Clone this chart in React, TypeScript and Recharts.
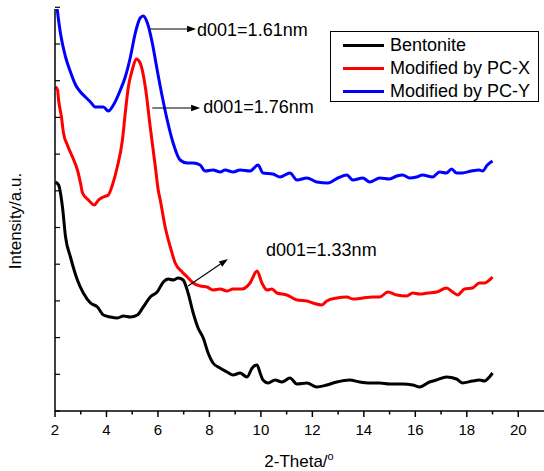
import React from "react";
import {
  LineChart,
  Line,
  XAxis,
  YAxis,
  Legend,
  ReferenceLine,
  ReferenceDot,
} from "recharts";

// 2-Theta (degrees) vs intensity (a.u.)
const bentonite = [
  { x: 2.02, y: 229 }, { x: 2.14, y: 226 }, { x: 2.29, y: 204 }, { x: 2.41, y: 174 },
  { x: 2.6, y: 154 }, { x: 2.87, y: 131 }, { x: 3.1, y: 118 }, { x: 3.38, y: 108 },
  { x: 3.65, y: 104 }, { x: 3.88, y: 96 }, { x: 4.15, y: 94 }, { x: 4.42, y: 93 },
  { x: 4.66, y: 95 }, { x: 4.93, y: 94 }, { x: 5.2, y: 96 }, { x: 5.43, y: 104 },
  { x: 5.7, y: 114 }, { x: 5.97, y: 119 }, { x: 6.21, y: 129 }, { x: 6.4, y: 132 },
  { x: 6.59, y: 131 }, { x: 6.79, y: 133 }, { x: 6.98, y: 131 }, { x: 7.17, y: 118 },
  { x: 7.37, y: 98 }, { x: 7.56, y: 83 }, { x: 7.76, y: 73 }, { x: 7.95, y: 58 },
  { x: 8.14, y: 48 }, { x: 8.41, y: 43 }, { x: 8.69, y: 39 }, { x: 8.92, y: 36 },
  { x: 9.19, y: 38 }, { x: 9.46, y: 34 }, { x: 9.66, y: 43 }, { x: 9.85, y: 46 },
  { x: 9.97, y: 38 }, { x: 10.08, y: 31 }, { x: 10.28, y: 28 }, { x: 10.55, y: 31 },
  { x: 10.82, y: 29 }, { x: 11.13, y: 33 }, { x: 11.4, y: 27 }, { x: 11.79, y: 28 },
  { x: 12.17, y: 24 }, { x: 12.56, y: 26 }, { x: 12.95, y: 29 }, { x: 13.45, y: 31 },
  { x: 13.84, y: 29 }, { x: 14.23, y: 28 }, { x: 14.62, y: 28 }, { x: 15.0, y: 27 },
  { x: 15.51, y: 27 }, { x: 15.9, y: 26 }, { x: 16.17, y: 24 }, { x: 16.55, y: 29 },
  { x: 16.83, y: 31 }, { x: 17.21, y: 34 }, { x: 17.6, y: 32 }, { x: 17.83, y: 28 },
  { x: 18.22, y: 30 }, { x: 18.49, y: 31 }, { x: 18.69, y: 30 }, { x: 18.88, y: 34 },
  { x: 19.0, y: 38 },
];

const pcX = [
  { x: 2.02, y: 324 }, { x: 2.1, y: 321 }, { x: 2.14, y: 311 }, { x: 2.25, y: 294 },
  { x: 2.33, y: 278 }, { x: 2.48, y: 266 }, { x: 2.68, y: 254 }, { x: 2.87, y: 241 },
  { x: 2.99, y: 228 }, { x: 3.07, y: 218 }, { x: 3.3, y: 211 }, { x: 3.53, y: 206 },
  { x: 3.69, y: 211 }, { x: 3.88, y: 214 }, { x: 4.07, y: 216 }, { x: 4.23, y: 226 },
  { x: 4.42, y: 244 }, { x: 4.62, y: 271 }, { x: 4.73, y: 298 }, { x: 4.85, y: 324 },
  { x: 5.0, y: 341 }, { x: 5.16, y: 352 }, { x: 5.31, y: 348 }, { x: 5.51, y: 324 },
  { x: 5.7, y: 284 }, { x: 5.9, y: 244 }, { x: 6.01, y: 221 }, { x: 6.09, y: 211 },
  { x: 6.28, y: 184 }, { x: 6.48, y: 164 }, { x: 6.67, y: 148 }, { x: 6.94, y: 139 },
  { x: 7.14, y: 134 }, { x: 7.37, y: 128 }, { x: 7.64, y: 125 }, { x: 7.91, y: 124 },
  { x: 8.14, y: 121 }, { x: 8.41, y: 122 }, { x: 8.69, y: 120 }, { x: 8.92, y: 122 },
  { x: 9.27, y: 122 }, { x: 9.58, y: 128 }, { x: 9.85, y: 140 }, { x: 10.04, y: 128 },
  { x: 10.24, y: 121 }, { x: 10.43, y: 122 }, { x: 10.62, y: 118 }, { x: 11.01, y: 116 },
  { x: 11.4, y: 111 }, { x: 11.79, y: 110 }, { x: 12.02, y: 108 }, { x: 12.37, y: 106 },
  { x: 12.56, y: 110 }, { x: 12.95, y: 113 }, { x: 13.34, y: 114 }, { x: 13.57, y: 112 },
  { x: 13.96, y: 113 }, { x: 14.34, y: 114 }, { x: 14.62, y: 114 }, { x: 14.93, y: 119 },
  { x: 15.28, y: 116 }, { x: 15.66, y: 115 }, { x: 15.9, y: 118 }, { x: 16.17, y: 117 },
  { x: 16.48, y: 118 }, { x: 16.83, y: 119 }, { x: 17.21, y: 123 }, { x: 17.45, y: 119 },
  { x: 17.64, y: 116 }, { x: 17.91, y: 122 }, { x: 18.22, y: 123 }, { x: 18.49, y: 128 },
  { x: 18.69, y: 128 }, { x: 18.88, y: 131 }, { x: 19.0, y: 134 },
];

const pcY = [
  { x: 2.02, y: 420 }, { x: 2.09, y: 401 }, { x: 2.21, y: 378 }, { x: 2.41, y: 354 },
  { x: 2.6, y: 339 }, { x: 2.8, y: 326 }, { x: 2.99, y: 319 }, { x: 3.18, y: 314 },
  { x: 3.38, y: 309 }, { x: 3.57, y: 304 }, { x: 3.76, y: 304 }, { x: 3.88, y: 304 },
  { x: 4.07, y: 300 }, { x: 4.27, y: 306 }, { x: 4.54, y: 321 }, { x: 4.73, y: 334 },
  { x: 4.93, y: 354 }, { x: 5.12, y: 378 }, { x: 5.31, y: 393 }, { x: 5.43, y: 395 },
  { x: 5.59, y: 388 }, { x: 5.78, y: 368 }, { x: 5.97, y: 341 }, { x: 6.17, y: 314 },
  { x: 6.36, y: 291 }, { x: 6.59, y: 268 }, { x: 6.86, y: 251 }, { x: 7.14, y: 248 },
  { x: 7.37, y: 248 }, { x: 7.64, y: 246 }, { x: 7.83, y: 240 }, { x: 8.14, y: 241 },
  { x: 8.42, y: 239 }, { x: 8.61, y: 241 }, { x: 8.92, y: 239 }, { x: 9.19, y: 241 },
  { x: 9.58, y: 240 }, { x: 9.89, y: 246 }, { x: 10.08, y: 238 }, { x: 10.47, y: 237 },
  { x: 10.74, y: 234 }, { x: 11.13, y: 238 }, { x: 11.4, y: 231 }, { x: 11.79, y: 233 },
  { x: 12.17, y: 229 }, { x: 12.6, y: 228 }, { x: 12.99, y: 233 }, { x: 13.34, y: 236 },
  { x: 13.57, y: 231 }, { x: 13.96, y: 233 }, { x: 14.23, y: 229 }, { x: 14.62, y: 233 },
  { x: 15.0, y: 232 }, { x: 15.28, y: 235 }, { x: 15.51, y: 236 }, { x: 15.78, y: 233 },
  { x: 16.05, y: 234 }, { x: 16.28, y: 236 }, { x: 16.67, y: 234 }, { x: 16.94, y: 239 },
  { x: 17.21, y: 238 }, { x: 17.41, y: 242 }, { x: 17.6, y: 238 }, { x: 17.83, y: 238 },
  { x: 18.18, y: 240 }, { x: 18.49, y: 241 }, { x: 18.61, y: 240 }, { x: 18.8, y: 246 },
  { x: 19.0, y: 250 },
];

const xTicks = [2, 3, 4, 5, 6, 7, 8, 9, 10, 11, 12, 13, 14, 15, 16, 17, 18, 19, 20];
const yTicks = [0, 36.7, 73.4, 110.1, 146.8, 183.5, 220.2, 256.9, 293.6, 330.3, 367, 403.7];

// annotation arrows: from (x1,y1) to (x2,y2), label at (x,y)
const arrows = [
  { x1: 5.7, y1: 382, x2: 7.48, y2: 382 },
  { x1: 5.78, y1: 303, x2: 7.64, y2: 303 },
  { x1: 7.17, y1: 125, x2: 8.72, y2: 152 },
];
const notes = [
  { x: 7.52, y: 381, text: "d001=1.61nm" },
  { x: 7.76, y: 304, text: "d001=1.76nm" },
  { x: 10.2, y: 161, text: "d001=1.33nm" },
];

const FONT = '"Liberation Sans", Arial, sans-serif';

const BottomTick = (props: any) => {
  const { x, y, payload } = props;
  const major = payload.value % 2 === 0;
  return (
    <g>
      <line x1={x} y1={y} x2={x} y2={y + (major ? 6 : 3.5)} stroke="#000" strokeWidth={1.5} />
      {major && (
        <text x={x} y={y + 24} textAnchor="middle" fontSize={15} fontFamily={FONT} fill="#000">
          {payload.value}
        </text>
      )}
    </g>
  );
};

const TopTick = (props: any) => {
  const { x, y } = props;
  return <line x1={x} y1={y} x2={x} y2={y + 3.5} stroke="#000" strokeWidth={1.2} />;
};

const LeftTick = (props: any) => {
  const { x, y } = props;
  return <line x1={x} y1={y} x2={x + 5} y2={y} stroke="#000" strokeWidth={1.2} />;
};

const ArrowShape = (props: any) => {
  const { x1, y1, x2, y2 } = props;
  if ([x1, y1, x2, y2].some((v) => typeof v !== "number" || isNaN(v))) return null;
  const ang = Math.atan2(y2 - y1, x2 - x1);
  const L = 9;
  const W = 3.2;
  const bx = x2 - L * Math.cos(ang);
  const by = y2 - L * Math.sin(ang);
  const px = -Math.sin(ang) * W;
  const py = Math.cos(ang) * W;
  return (
    <g>
      <line x1={x1} y1={y1} x2={bx} y2={by} stroke="#000" strokeWidth={1.1} />
      <polygon points={`${x2},${y2} ${bx + px},${by + py} ${bx - px},${by - py}`} fill="#000" />
    </g>
  );
};

const makeNote = (text: string) => (props: any) => {
  const { cx, cy } = props;
  return (
    <text x={cx} y={cy} dominantBaseline="central" fontSize={18} fontFamily={FONT} fill="#000">
      {text}
    </text>
  );
};

const renderLegend = (props: any) => {
  const payload = props.payload || [];
  return (
    <div
      style={{
        border: "1px solid #000",
        width: 209,
        height: 71,
        boxSizing: "border-box",
        background: "#fff",
        paddingTop: 2,
        fontFamily: FONT,
        fontSize: 18,
        color: "#000",
      }}
    >
      {payload.map((p: any) => (
        <div key={p.value} style={{ display: "flex", alignItems: "center", height: 23 }}>
          <div style={{ width: 41, height: 3, background: p.color, marginLeft: 12 }} />
          <span style={{ marginLeft: 6, lineHeight: "23px", whiteSpace: "nowrap" }}>{p.value}</span>
        </div>
      ))}
    </div>
  );
};

export default function App() {
  return (
    <div style={{ position: "absolute", left: 0, top: 0, width: 544, height: 471, background: "#fff" }}>
      <LineChart width={544} height={471} margin={{ top: 9, right: 0, bottom: 0, left: 0 }}>
        <XAxis
          xAxisId={0}
          type="number"
          dataKey="x"
          domain={[2, 21]}
          ticks={xTicks}
          interval={0}
          height={60}
          tickSize={0}
          tickMargin={0}
          tickLine={false}
          tick={BottomTick}
          axisLine={{ stroke: "#000", strokeWidth: 1.5 }}
          allowDataOverflow
          label={{
            content: () => (
              <text x={299} y={467} textAnchor="middle" fontSize={17} fontFamily={FONT} fill="#000">
                2-Theta/
                <tspan dy={-7} fontSize={11}>o</tspan>
              </text>
            ),
          }}
        />
        <XAxis
          xAxisId="top"
          orientation="top"
          type="number"
          dataKey="x"
          domain={[2, 21]}
          ticks={xTicks}
          interval={0}
          height={0}
          tickSize={0}
          tickMargin={0}
          tickLine={false}
          tick={TopTick}
          axisLine={{ stroke: "#000", strokeWidth: 1.5 }}
          allowDataOverflow
        />
        <YAxis
          type="number"
          domain={[0, 402]}
          ticks={yTicks}
          interval={0}
          width={55}
          tickSize={0}
          tickMargin={0}
          tickLine={false}
          tick={LeftTick}
          axisLine={{ stroke: "#000", strokeWidth: 1.5 }}
          allowDataOverflow
          label={{
            content: () => (
              <text
                x={15}
                y={221}
                textAnchor="middle"
                dominantBaseline="central"
                transform="rotate(-90 15 221)"
                fontSize={17}
                fontFamily={FONT}
                fill="#000"
              >
                Intensity/a.u.
              </text>
            ),
          }}
        />
        <Legend
          layout="vertical"
          align="center"
          verticalAlign="middle"
          content={renderLegend}
          wrapperStyle={{ left: 330, top: 31, width: 209, height: 71 }}
        />
        <Line
          data={bentonite}
          dataKey="y"
          name="Bentonite"
          stroke="#000000"
          strokeWidth={3}
          dot={false}
          isAnimationActive={false}
          type="monotone"
        />
        <Line
          data={pcX}
          dataKey="y"
          name="Modified by PC-X"
          stroke="#ff0000"
          strokeWidth={3}
          dot={false}
          isAnimationActive={false}
          type="monotone"
        />
        <Line
          data={pcY}
          dataKey="y"
          name="Modified by PC-Y"
          stroke="#0000ff"
          strokeWidth={3}
          dot={false}
          isAnimationActive={false}
          type="monotone"
        />
        {arrows.map((a, i) => (
          <ReferenceLine
            key={"a" + i}
            segment={[
              { x: a.x1, y: a.y1 },
              { x: a.x2, y: a.y2 },
            ]}
            shape={ArrowShape}
            ifOverflow="visible"
          />
        ))}
        {notes.map((n, i) => (
          <ReferenceDot key={"n" + i} x={n.x} y={n.y} r={0} shape={makeNote(n.text)} ifOverflow="visible" />
        ))}
      </LineChart>
    </div>
  );
}
